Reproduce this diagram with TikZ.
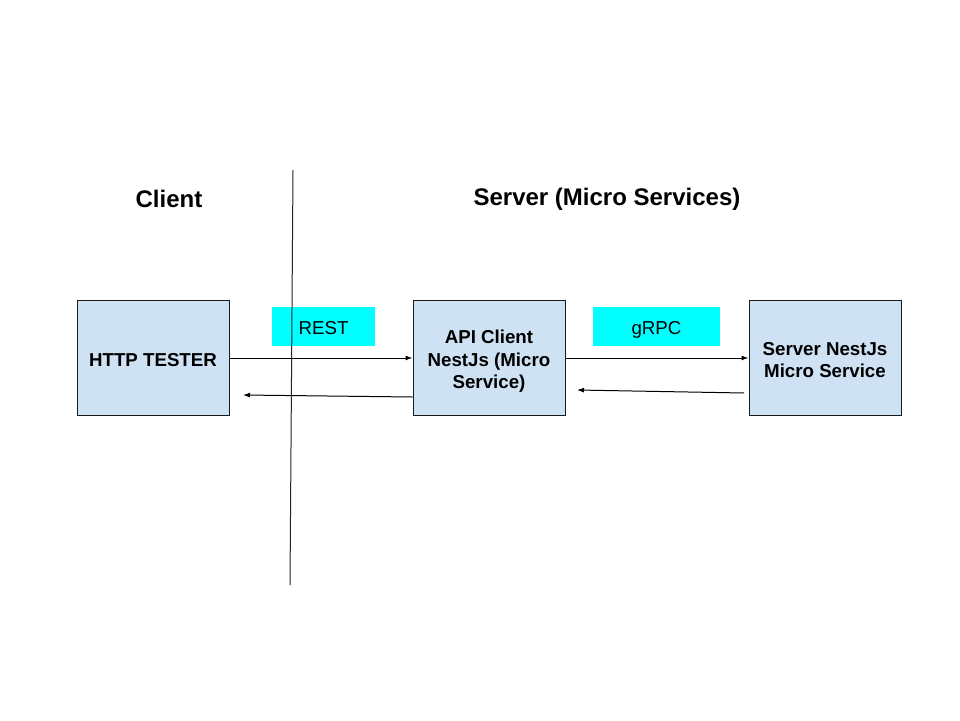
\documentclass[tikz,border=0pt]{standalone}
\usepackage{fontspec}
\setmainfont{Liberation Sans}
\usetikzlibrary{arrows.meta}
\definecolor{boxblue}{HTML}{CFE2F3}
\definecolor{cyanbox}{HTML}{00FFFF}
\tikzset{
  svc/.style={draw=black!90, fill=boxblue, line width=1pt, minimum width=152pt, minimum height=115pt, inner sep=0pt},
  svctext/.style={align=center, font=\fontsize{18.7}{22.5}\selectfont\bfseries},
  proto/.style={fill=cyanbox, inner sep=0pt, anchor=north west},
  prototext/.style={font=\fontsize{18.7}{21.5}\selectfont, anchor=base},
  header/.style={font=\fontsize{24}{28}\selectfont\bfseries},
  conn/.style={line width=1pt, -{Latex[length=7pt,width=5pt]}},
}
\begin{document}
\begin{tikzpicture}[x=1pt,y=-1pt]
\useasboundingbox (0,0) rectangle (960,720);
\fill[white] (0,0) rectangle (960,720);
\node[header] (client) at (169,199) {Client};
\node[header] (server) at (607,199) {Server (Micro Services)};
\node[svc] (http) at (153,357.5) {};
\node[svctext] (httpt) at (153,360.5) {HTTP TESTER};
\node[svc] (api) at (489,357.5) {};
\node[svctext] (apit) at (489,361.5) {API Client\\NestJs (Micro\\Service)};
\node[svc] (srv) at (825,357.5) {};
\node[svctext] (srvt) at (825,360) {Server NestJs\\Micro Service};
\node[proto, minimum width=103pt, minimum height=39pt] (rest) at (272,307) {};
\node[prototext] (restt) at (323.5,334) {REST};
\node[proto, minimum width=127pt, minimum height=39pt] (grpc) at (593,307) {};
\node[prototext] (grpct) at (656.5,334) {gRPC};
\coordinate (vtop) at (293,170);
\coordinate (vbot) at (290,585);
\draw[line width=1pt, black!85] (vtop) -- (vbot);
\draw[conn] (http.east |- 0,358) -- (api.west |- 0,358);
\draw[conn] (api.west |- 0,397) -- (243,395) coordinate (r1);
\draw[conn] (api.east |- 0,358) -- (srv.west |- 0,358);
\draw[conn] (744,393) coordinate (r2s) -- (577,390) coordinate (r2);
\end{tikzpicture}
\end{document}
